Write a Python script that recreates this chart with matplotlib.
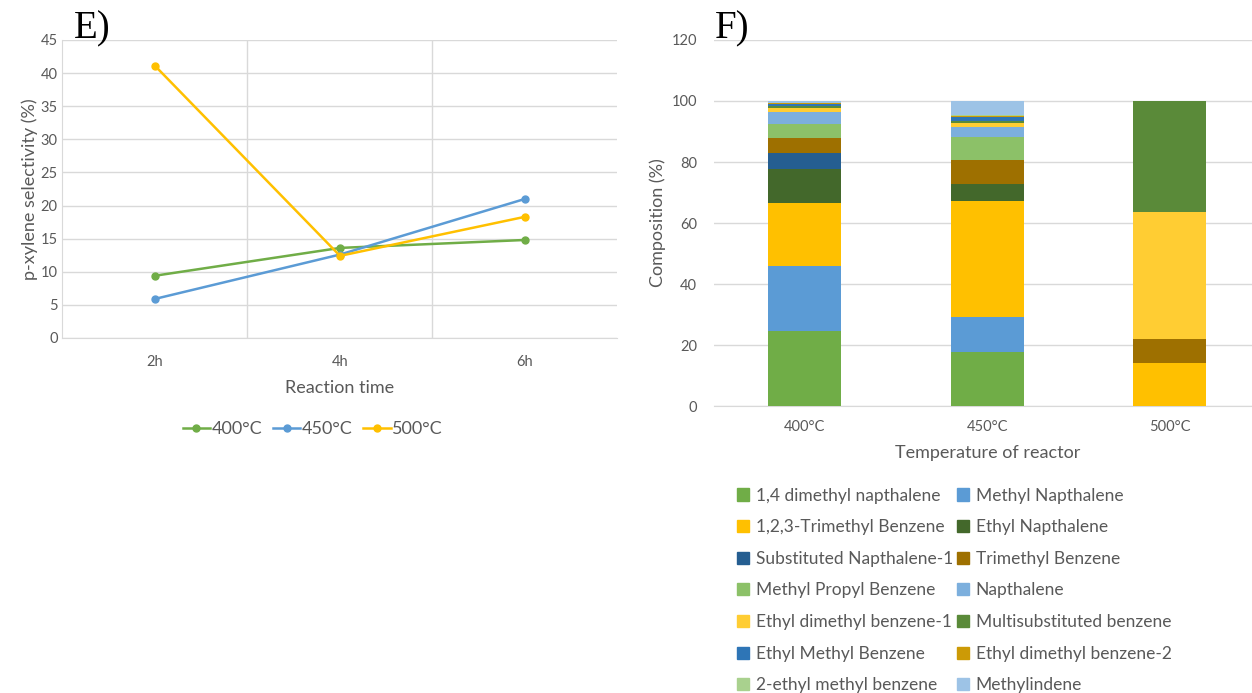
import numpy as np
import matplotlib
matplotlib.use("Agg")
import matplotlib.pyplot as plt
from matplotlib.patches import Patch

plt.rcParams['font.family'] = ['Lato', 'DejaVu Sans']

# panel E data
times = ["2h", "4h", "6h"]
sel_400 = [9.4, 13.6, 14.8]
sel_450 = [5.9, 12.6, 21.0]
sel_500 = [41.1, 12.4, 18.3]

# panel F data
temps = ["400°C", "450°C", "500°C"]
compounds = [
    "1,4 dimethyl napthalene", "Methyl Napthalene",
    "1,2,3-Trimethyl Benzene", "Ethyl Napthalene",
    "Substituted Napthalene-1", "Trimethyl Benzene",
    "Methyl Propyl Benzene", "Napthalene",
    "Ethyl dimethyl benzene-1", "Multisubstituted benzene",
    "Ethyl Methyl Benzene", "Ethyl dimethyl benzene-2",
    "2-ethyl methyl benzene", "Methylindene",
]
comp_400 = [24.5, 21.3, 20.6, 11.2, 5.4, 5.0, 4.5, 3.9, 1.3, 0.6, 0.6, 0.4, 0.2, 0.5]
comp_450 = [17.8, 11.4, 37.9, 5.8, 0.0, 7.9, 7.3, 3.5, 1.3, 0.5, 1.2, 0.6, 0.3, 4.5]
comp_500 = [0.0, 0.0, 14.1, 0.0, 0.0, 7.9, 0.0, 0.0, 41.6, 36.4, 0.0, 0.0, 0.0, 0.0]

comp_colors = ["#70AD47", "#5B9BD5", "#FFC000", "#43682B", "#255E91", "#9E7000",
               "#8CC168", "#7CAFDD", "#FFCD33", "#5A8A39", "#2E75B6", "#CC9A06",
               "#A9D18E", "#9DC3E6"]

txt = "#595959"
grid_c = "#D9D9D9"

fig = plt.figure(figsize=(12.52, 6.93), dpi=100)

# ---- panel E ----
ax1 = fig.add_axes([0.0499, 0.5123, 0.4433, 0.43])
x = np.arange(len(times))
for vals, col, lab in [(sel_400, "#70AD47", "400°C"),
                       (sel_450, "#5B9BD5", "450°C"),
                       (sel_500, "#FFC000", "500°C")]:
    ax1.plot(x, vals, color=col, lw=1.8, marker="o", ms=5, label=lab, zorder=3)
ax1.set_xlim(-0.5, 2.5)
ax1.set_ylim(0, 45)
ax1.set_yticks(np.arange(0, 46, 5))
ax1.set_xticks(x)
ax1.set_xticklabels(times)
ax1.set_xticks([0.5, 1.5], minor=True)
ax1.grid(True, axis="y", color=grid_c, lw=1)
ax1.grid(True, axis="x", which="minor", color=grid_c, lw=1)
ax1.tick_params(axis="both", which="both", length=0, colors=txt, labelsize=10.5)
ax1.tick_params(axis="x", pad=12)
for s in ["top", "right"]:
    ax1.spines[s].set_visible(False)
for s in ["left", "bottom"]:
    ax1.spines[s].set_color(grid_c)
ax1.set_xlabel("Reaction time", color=txt, fontsize=13, labelpad=8)
ax1.set_ylabel("p-xylene selectivity (%)", color=txt, fontsize=13, labelpad=2)
ax1.legend(loc="center", bbox_to_anchor=(0.451, -0.305), ncol=3, frameon=False,
           fontsize=13, labelcolor=txt, handlelength=1.5, handletextpad=0.1,
           columnspacing=0.6)
fig.text(0.059, 0.932, "E)", family="Liberation Serif", fontsize=28, va="bottom")

# ---- panel F ----
ax2 = fig.add_axes([0.5699, 0.4141, 0.4373, 0.5282])
xb = np.arange(len(temps))
data = np.array([comp_400, comp_450, comp_500]).T
bottom = np.zeros(len(temps))
for i, name in enumerate(compounds):
    ax2.bar(xb, data[i], 0.4, bottom=bottom, color=comp_colors[i],
            label=name, zorder=3)
    bottom += data[i]
ax2.set_xlim(-0.5, 2.5)
ax2.set_ylim(0, 120)
ax2.set_yticks(np.arange(0, 121, 20))
ax2.set_xticks(xb)
ax2.set_xticklabels(temps)
ax2.grid(True, axis="y", color=grid_c, lw=1)
ax2.tick_params(axis="both", length=0, colors=txt, labelsize=10.5)
ax2.tick_params(axis="x", pad=10)
ax2.tick_params(axis="y", pad=12)
for s in ["top", "right", "left"]:
    ax2.spines[s].set_visible(False)
ax2.spines["bottom"].set_color(grid_c)
ax2.set_xlabel("Temperature of reactor", color=txt, fontsize=13, labelpad=8)
ax2.set_ylabel("Composition (%)", color=txt, fontsize=13, labelpad=4)
fig.text(0.571, 0.932, "F)", family="Liberation Serif", fontsize=28, va="bottom")

# legend fills row by row, matplotlib fills column by column
order = list(range(0, len(compounds), 2)) + list(range(1, len(compounds), 2))
handles = [Patch(color=comp_colors[i]) for i in order]
labels = [compounds[i] for i in order]
fig.legend(handles, labels, loc="upper left", bbox_to_anchor=(0.576, 0.319),
           ncol=2, frameon=False, fontsize=12.5, labelcolor=txt,
           handlelength=0.7, handleheight=0.7, handletextpad=0.4,
           columnspacing=0.2, labelspacing=0.9)

fig.savefig("out.png", dpi=100, facecolor="white")
